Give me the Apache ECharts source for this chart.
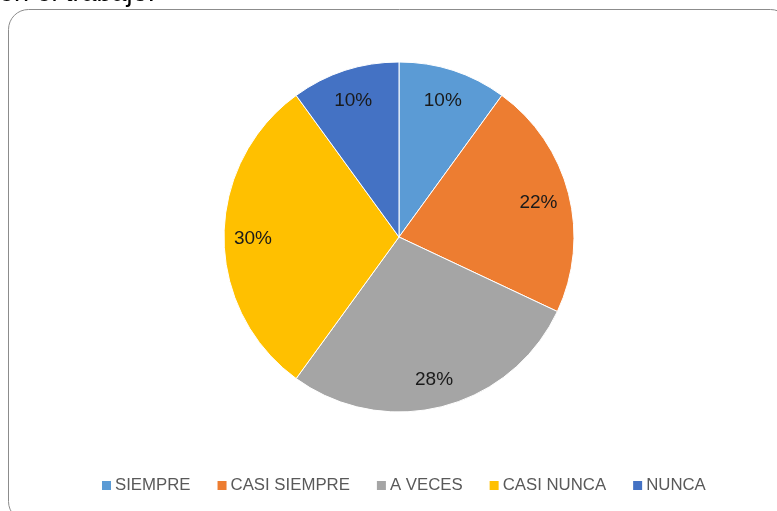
<!DOCTYPE html>
<html>
<head>
<meta charset="utf-8">
<script src="https://cdn.jsdelivr.net/npm/echarts@6/dist/echarts.min.js"></script>
<style>html,body{margin:0;padding:0;background:#fff}#c{width:777px;height:511px}</style>
</head>
<body>
<div id="c"></div>
<script>
var categories = ['SIEMPRE', 'CASI SIEMPRE', 'A VECES', 'CASI NUNCA', 'NUNCA'];
var values = [10, 22, 28, 30, 10];
var colors = ['#5B9BD5', '#ED7D31', '#A5A5A5', '#FFC000', '#4472C4'];
var titleText = 'en el trabajo.';

var chart = echarts.init(document.getElementById('c'));
var pieData = categories.map(function (n, i) { return { name: n, value: values[i], itemStyle: { color: colors[i] } }; });
var labelData = categories.map(function (n, i) { return { name: n, value: values[i] }; });
chart.setOption({
  animation: false,
  graphic: [
    { type: 'rect', shape: { x: 8.5, y: 9.5, width: 782, height: 512, r: 20 }, style: { fill: 'none', stroke: '#8c8c8c', lineWidth: 1 }, z: 0 },
    { type: 'text', left: -1, top: -19.5, style: { text: titleText, font: '27px "Liberation Sans", Arial, sans-serif', fill: '#000' } }
  ],
  legend: {
    data: categories,
    bottom: 12,
    left: 95,
    itemWidth: 11,
    itemHeight: 11,
    itemGap: 25,
    icon: 'rect',
    textStyle: { color: '#595959', fontSize: 16.8, fontFamily: '"Liberation Sans", Arial, sans-serif', padding: [0, 0, 0, -2] }
  },
  series: [
    {
      type: 'pie',
      center: [399, 237],
      radius: [0, 175],
      startAngle: 90,
      clockwise: true,
      label: { show: false },
      labelLine: { show: false },
      itemStyle: { borderColor: '#fff', borderWidth: 1 },
      data: pieData
    },
    {
      type: 'pie',
      center: [398, 239],
      radius: [109, 175],
      startAngle: 90,
      clockwise: true,
      silent: true,
      itemStyle: { color: 'rgba(0,0,0,0)' },
      label: { show: true, position: 'inside', formatter: '{d}%', color: '#1a1a1a', fontSize: 19, fontFamily: '"Liberation Sans", Arial, sans-serif' },
      labelLine: { show: false },
      data: labelData
    }
  ]
});
</script>
</body>
</html>
